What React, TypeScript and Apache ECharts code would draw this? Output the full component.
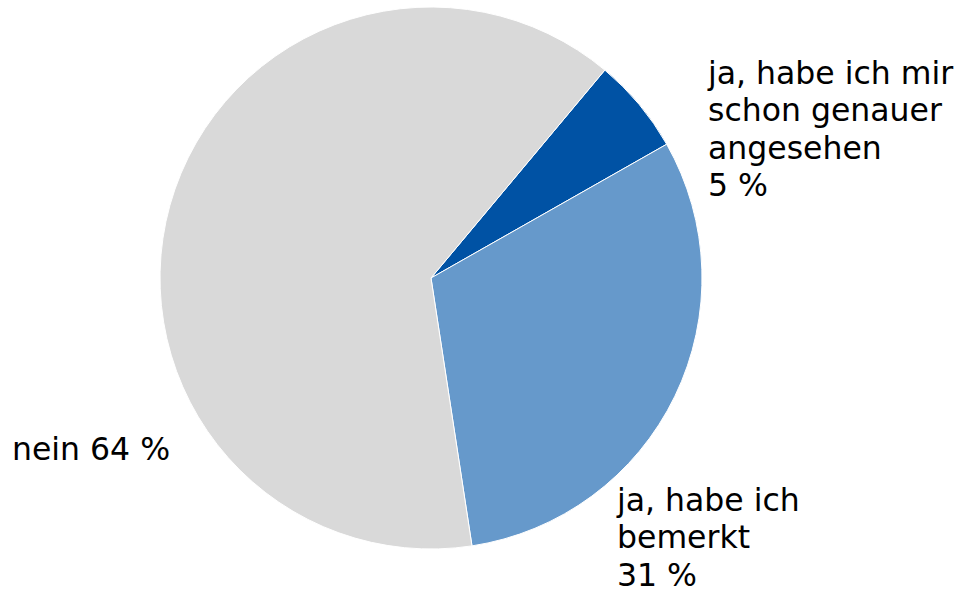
import React, { useEffect, useRef } from "react";
import * as echarts from "echarts";

const categories = [
  "ja, habe ich mir\nschon genauer\nangesehen",
  "ja, habe ich\nbemerkt",
  "nein",
];
const values = [5.7, 30.8, 63.5];
const shownPercents = ["5 %", "31 %", "64 %"];
const colors = ["#0052A4", "#6699CB", "#D9D9D9"];
const labelSeparators = ["\n", "\n", " "];

export default function App() {
  const ref = useRef<HTMLDivElement>(null);
  useEffect(() => {
    if (!ref.current) return;
    const chart = echarts.init(ref.current, undefined, { renderer: "svg" });
    const labelPos = [
      { x: 708, y: 54 },
      { x: 617, y: 481 },
      { x: 12, y: 449 },
    ];
    chart.setOption({
      animation: false,
      backgroundColor: "#ffffff",
      series: [
        {
          type: "pie",
          center: [431, 278],
          radius: [0, 271],
          startAngle: 50.1,
          clockwise: true,
          avoidLabelOverlap: false,
          itemStyle: { borderColor: "#ffffff", borderWidth: 1 },
          label: {
            show: true,
            position: "outside",
            fontFamily: "DejaVu Sans",
            fontSize: 31.5,
            lineHeight: 37.5,
            color: "#000000",
            formatter: (p: any) =>
              categories[p.dataIndex] + labelSeparators[p.dataIndex] + shownPercents[p.dataIndex],
          },
          labelLine: { show: false },
          labelLayout: (params: any) => {
            const pos = labelPos[params.dataIndex];
            return {
              x: pos.x,
              y: pos.y,
              align: "left",
              verticalAlign: params.dataIndex === 2 ? "middle" : "top",
            };
          },
          data: categories.map((c, i) => ({
            name: c,
            value: values[i],
            itemStyle: { color: colors[i] },
          })),
        },
      ],
    });
    return () => chart.dispose();
  }, []);
  return (
    <div
      ref={ref}
      style={{ position: "absolute", left: 0, top: 0, width: 966, height: 592 }}
    />
  );
}
